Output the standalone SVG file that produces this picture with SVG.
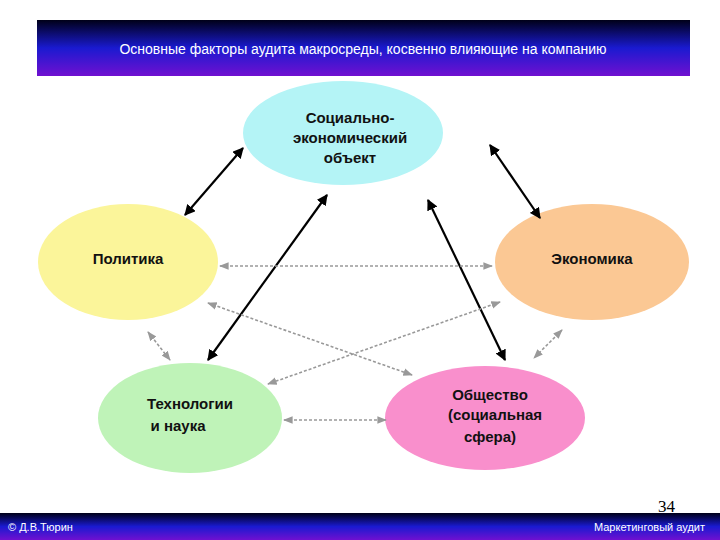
<svg xmlns="http://www.w3.org/2000/svg" width="720" height="540" viewBox="0 0 720 540">
<defs>
<linearGradient id="hg" x1="0" y1="0" x2="0" y2="1"><stop offset="0" stop-color="#000018"/><stop offset="0.5" stop-color="#1a1ad0"/><stop offset="1" stop-color="#7010d0"/></linearGradient>
<marker id="ab" viewBox="0 0 10 10" refX="9" refY="5" markerWidth="5" markerHeight="5" orient="auto-start-reverse"><path d="M0,0 L10,5 L0,10 z" fill="#000"/></marker>
<marker id="ag" viewBox="0 0 10 10" refX="9" refY="5" markerWidth="6" markerHeight="6" orient="auto-start-reverse"><path d="M0,1 L10,5 L0,9 z" fill="#999"/></marker>
</defs>
<style>
.t{font-family:"Liberation Sans",Arial,sans-serif;font-weight:bold;font-size:15px;fill:#111;text-anchor:middle}
.b{stroke:#000;stroke-width:2.2;marker-start:url(#ab);marker-end:url(#ab)}
.g{stroke:#999;stroke-width:1.6;stroke-dasharray:3 2;marker-start:url(#ag);marker-end:url(#ag)}
.w{font-family:"Liberation Sans",Arial,sans-serif;fill:#fff}
</style>
<rect width="720" height="540" fill="#fff"/>
<rect x="37" y="20" width="653" height="56" fill="url(#hg)"/>
<text x="363" y="54" class="w" font-size="14" text-anchor="middle">Основные факторы аудита макросреды, косвенно влияющие на компанию</text>
<rect x="0" y="513" width="720" height="27" fill="url(#hg)"/>
<text x="8" y="531" class="w" font-size="11">© Д.В.Тюрин</text>
<text x="705" y="531" class="w" font-size="11" text-anchor="end">Маркетинговый аудит</text>
<text x="675" y="512" font-family="Liberation Serif,serif" font-size="17" text-anchor="end" fill="#000">34</text>
<g id="n1"><ellipse cx="343" cy="133" rx="100" ry="52" fill="#b4f4f6"/><text class="t" x="350" y="123">Социально-</text><text class="t" x="350" y="143">экономический</text><text class="t" x="350" y="163">объект</text></g>
<g id="n2"><ellipse cx="128" cy="262" rx="90" ry="58" fill="#fbf59a"/><text class="t" x="128" y="264">Политика</text></g>
<g id="n3"><ellipse cx="592" cy="262" rx="97" ry="58" fill="#fbc894"/><text class="t" x="592" y="264">Экономика</text></g>
<g id="n4"><ellipse cx="190" cy="418" rx="92" ry="55" fill="#bff3b8"/><text class="t" x="190" y="409">Технологии</text><text class="t" x="178" y="431">и наука</text></g>
<g id="n5"><ellipse cx="485" cy="418" rx="100" ry="52" fill="#f98fcc"/><text class="t" x="490" y="400">Общество</text><text class="t" x="495" y="420">(социальная</text><text class="t" x="490" y="442">сфера)</text></g>
<g id="connectors">
<line class="b" x1="243" y1="148" x2="185" y2="215"/>
<line class="b" x1="490" y1="145" x2="540" y2="218"/>
<line class="b" x1="327" y1="195" x2="208" y2="360"/>
<line class="b" x1="428" y1="200" x2="505" y2="360"/>
<line class="g" x1="220" y1="266" x2="492" y2="266"/>
<line class="g" x1="208" y1="303" x2="412" y2="375"/>
<line class="g" x1="500" y1="302" x2="268" y2="384"/>
<line class="g" x1="148" y1="332" x2="170" y2="360"/>
<line class="g" x1="562" y1="330" x2="534" y2="358"/>
<line class="g" x1="284" y1="420" x2="386" y2="420"/>
</g>
</svg>
